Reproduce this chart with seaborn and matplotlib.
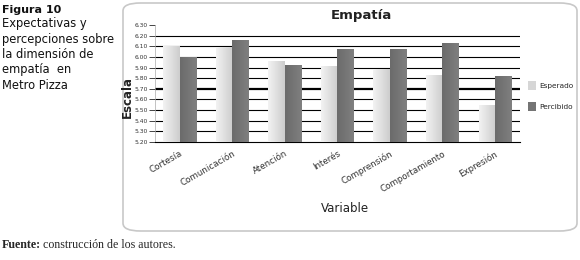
import numpy as np
import pandas as pd
import matplotlib
matplotlib.use("Agg")
import matplotlib.pyplot as plt
import seaborn as sns
from matplotlib.patches import FancyBboxPatch, Patch

categorias = ["Cortesía", "Comunicación", "Atención", "Interés", "Comprensión",
              "Comportamiento", "Expresión"]
esperado = [6.10, 6.09, 5.96, 5.91, 5.89, 5.83, 5.55]
percibido = [6.00, 6.16, 5.92, 6.07, 6.07, 6.13, 5.82]
series = ["Esperado", "Percibido"]
yticks = [5.20, 5.30, 5.40, 5.50, 5.60, 5.70, 5.80, 5.90, 6.00, 6.10, 6.20, 6.30]

df = pd.DataFrame({
    "Variable": categorias * 2,
    "Serie": [series[0]] * len(categorias) + [series[1]] * len(categorias),
    "Escala": esperado + percibido,
})

sns.set_style("white")
plt.rcParams["font.family"] = ["DejaVu Sans"]

fig = plt.figure(figsize=(5.8, 2.6), dpi=100)
W, H = 580, 260

# rounded frame
frame = FancyBboxPatch((123 / W, 1 - 231 / H), 454 / W, 228 / H,
                       boxstyle="round,pad=0,rounding_size=0.03",
                       transform=fig.transFigure, facecolor="white",
                       edgecolor="#c8c8c8", linewidth=1.2, zorder=-5)
fig.patches.append(frame)

AX_L, AX_R, AX_T, AX_B = 155, 520, 25, 142
ax = fig.add_axes([AX_L / W, 1 - AX_B / H, (AX_R - AX_L) / W, (AX_B - AX_T) / H])
ax.set_facecolor("none")
ax.set_zorder(2)

# gridlines
for v in yticks[1:-1]:
    ax.axhline(v, color="black", lw=1.6 if abs(v - 5.70) < 1e-6 else 0.8, zorder=0)

palette = {"Esperado": "#cfcfcf", "Percibido": "#747474"}
sns.barplot(data=df, x="Variable", y="Escala", hue="Serie", palette=palette,
            width=0.62, gap=0.0, ax=ax, legend=False, saturation=1,
            edgecolor="none", zorder=2)

# gradient shading on bars
for p in ax.patches:
    x0, y0 = p.get_x(), p.get_y()
    w, h = p.get_width(), p.get_height()
    light = p.get_facecolor()[0] > 0.6
    if light:
        grad = np.linspace(0.95, 0.80, 64)
    else:
        grad = np.linspace(0.42, 0.50, 64)
    img = np.tile(grad, (2, 1))
    im = ax.imshow(img, extent=[x0, x0 + w, 5.2, y0 + h], aspect="auto",
                   cmap="gray", vmin=0, vmax=1, zorder=3, interpolation="bilinear")
    im.set_clip_path(p)

ax.set_ylim(5.2, 6.3)
ax.set_xlim(-0.47, 6.48)
ax.set_yticks(yticks)
ax.set_yticklabels([f"{v:.2f}" for v in yticks], fontsize=4.3, color="#333333")
ax.tick_params(axis="y", length=4, width=0.6, pad=1, left=True)
ax.tick_params(axis="x", length=0, pad=5)
ax.set_xticks(range(len(categorias)))
ax.set_xticklabels(categorias, rotation=30, ha="right", rotation_mode="anchor",
                   fontsize=6.3, color="#333333")
for s in ["top", "right"]:
    ax.spines[s].set_visible(False)
ax.spines["left"].set_color("#aaaaaa")
ax.spines["left"].set_linewidth(0.5)
ax.spines["bottom"].set_color("black")
ax.spines["bottom"].set_linewidth(0.8)

ax.set_xlabel("Variable", fontsize=8.5, color="#222222")
ax.set_ylabel("Escala", fontsize=8.5, fontweight="bold", color="#222222")
ax.xaxis.set_label_coords((345 - AX_L) / (AX_R - AX_L), -(209 - AX_B) / (AX_B - AX_T))
ax.yaxis.set_label_coords(-(AX_L - 127) / (AX_R - AX_L), (AX_B - 97) / (AX_B - AX_T))
ax.xaxis.label.set_va("center")
ax.yaxis.label.set_va("center")

fig.text(361 / W, 1 - 16 / H, "Empatía", fontsize=9.5, fontweight="bold",
         ha="center", va="center", color="#222222")

handles = [Patch(facecolor="#d6d6d6", edgecolor="none"),
           Patch(facecolor="#747474", edgecolor="none")]
fig.legend(handles, series, loc="center left", bbox_to_anchor=(525 / W, 1 - 96 / H),
           frameon=False, fontsize=5.3, handlelength=1.1, handleheight=1.6,
           labelspacing=1.5, handletextpad=0.5, borderaxespad=0)

fig.text(2 / W, 1 - 10 / H, "Figura 10", fontsize=8, fontweight="bold",
         ha="left", va="center", color="#111111")
fig.text(2 / W, 1 - 17 / H,
         "Expectativas y\npercepciones sobre\nla dimensión de\nempatía  en\nMetro Pizza",
         fontsize=8.3, ha="left", va="top", linespacing=1.25, color="#111111")

fig.text(2 / W, 1 - 245 / H, "Fuente:", fontsize=8.6, fontweight="bold",
         ha="left", va="center", family=["Liberation Serif", "DejaVu Serif"])
fig.text(43 / W, 1 - 245 / H, "construcción de los autores.", fontsize=8.6,
         ha="left", va="center", family=["Liberation Serif", "DejaVu Serif"])

fig.savefig("out.png", dpi=100)
